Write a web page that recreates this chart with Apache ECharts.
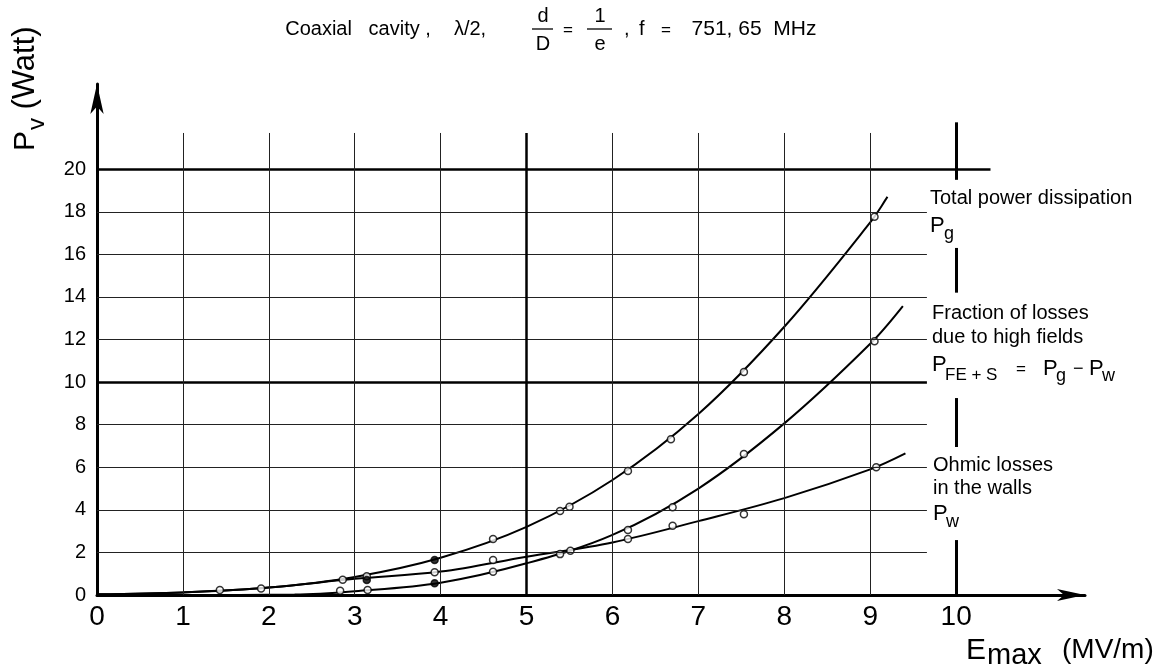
<!DOCTYPE html>
<html>
<head>
<meta charset="utf-8">
<script src="https://cdn.jsdelivr.net/npm/echarts@6/dist/echarts.min.js"></script>
<style>html,body{margin:0;background:#fff}#chart{width:1166px;height:671px}</style>
</head>
<body>
<div id="chart"></div>
<script>
// fitted curves (E in MV/m, P in Watt)
const pgCurve = [[0,0.03],[1,0.12],[2,0.35],[3,0.85],[4,1.75],[5,3.2],[6,5.4],[7,8.5],[8,12.6],[9,17.5],[9.2,18.7]]
const pwCurve = [[0,0.03],[1,0.12],[2,0.35],[3,0.76],[4,1.1],[5,1.8],[6,2.47],[7,3.47],[8,4.55],[9,5.9],[9.41,6.65]]
const pfeCurve = [[0,0],[1,0],[2.3,0.02],[3,0.18],[4,0.58],[5,1.49],[6,2.82],[7,5.0],[8,8.06],[9,11.8],[9.38,13.57]]

// measured points
const pgPts = [[1.43,0.23],[1.91,0.31],[2.86,0.72],[3.14,0.88],[4.61,2.63],[5.39,3.94],[5.5,4.15],[6.18,5.82],[6.68,7.32],[7.53,10.47],[9.05,17.76]]
const pwPts = [[3.93,1.07],[4.61,1.64],[5.51,2.08],[6.18,2.63],[6.7,3.25],[7.53,3.79],[9.07,6.0]]
const pfePts = [[2.83,0.2],[3.15,0.23],[4.61,1.09],[5.39,1.92],[6.18,3.05],[6.7,4.12],[7.53,6.62],[9.05,11.92]]
const filledPts = [[3.14,0.7],[3.93,1.64],[3.93,0.55]]

// grid of the drawing
const thinY = [2,4,6,8,12,14,16,18]
const heavyY = [10]
const topY = 20
const thinX = [1,2,3,4,6,7,8,9]
const heavyX = [5]
const gridEndX = 9.66
const topLineEndX = 10.4
const gridTopY = 21.7
const tenSegments = [[22.2,19.5],[16.3,14.2],[9.25,6.95],[2.58,0]]

const FONT = '"Liberation Sans", Arial, sans-serif'
const chart = echarts.init(document.getElementById('chart'))

const thin = {color:'#222', width:1, type:'solid'}
const heavy = {color:'#000', width:2.5, type:'solid'}
const gridLines = []
thinY.forEach(v => gridLines.push([{coord:[0,v], lineStyle:thin},{coord:[gridEndX,v]}]))
heavyY.forEach(v => gridLines.push([{coord:[0,v], lineStyle:heavy},{coord:[gridEndX,v]}]))
gridLines.push([{coord:[0,topY], lineStyle:heavy},{coord:[topLineEndX,topY]}])
thinX.forEach(v => gridLines.push([{coord:[v,0], lineStyle:thin},{coord:[v,gridTopY]}]))
heavyX.forEach(v => gridLines.push([{coord:[v,0], lineStyle:heavy},{coord:[v,gridTopY]}]))
tenSegments.forEach(s => gridLines.push([{coord:[10,s[0]], lineStyle:{color:'#000',width:3,type:'solid'}},{coord:[10,s[1]]}]))

function txt(x, y, s, size, align, extra) {
  return Object.assign({
    type:'text', x:x, y:y, silent:true,
    style:{text:s, font:size+'px '+FONT, fill:'#000',
      align:align||'left', verticalAlign:'middle',
      textAlign:align||'left', textVerticalAlign:'middle'}
  }, extra||{})
}
function hline(x1, x2, y) {
  return {type:'line', silent:true, shape:{x1:x1,y1:y,x2:x2,y2:y}, style:{stroke:'#000', lineWidth:1.3}}
}

const curve = (data) => ({
  type:'line', data:data, smooth:0.35, showSymbol:false, silent:true,
  lineStyle:{color:'#000', width:2}, z:3
})
const dots = (data, fill) => ({
  type:'scatter', data:data, symbol:'circle', symbolSize:7, silent:true, z:4,
  itemStyle:{color:fill, borderColor:'#000', borderWidth:1.5}
})

const option = {
  backgroundColor:'#fff',
  animation:false,
  grid:{left:97, right:81, top:84, bottom:76},
  xAxis:{
    type:'value', min:0, max:11.5, interval:1,
    axisLine:{show:true, symbol:['none','arrow'], symbolSize:[9,28], lineStyle:{color:'#000', width:3}},
    axisTick:{show:false}, splitLine:{show:false},
    axisLabel:{fontSize:28, fontFamily:FONT, color:'#000', margin:8,
      formatter: v => v <= 10 ? String(v) : ''}
  },
  yAxis:{
    type:'value', min:0, max:24, interval:2,
    axisLine:{show:true, symbol:['none','arrow'], symbolSize:[10,30], lineStyle:{color:'#000', width:3}},
    axisTick:{show:false}, splitLine:{show:false},
    axisLabel:{fontSize:20, fontFamily:FONT, color:'#000', margin:11,
      formatter: v => v <= 20 ? String(v) : ''}
  },
  series:[
    curve(pgCurve),
    curve(pwCurve),
    Object.assign(curve(pfeCurve), {
      markLine:{symbol:'none', silent:true, label:{show:false}, animation:false, data:gridLines}
    }),
    dots(pgPts, '#fff'),
    dots(pwPts, '#fff'),
    dots(pfePts, '#fff'),
    dots(filledPts, '#000')
  ],
  graphic:[
    // title
    txt(358, 29, 'Coaxial   cavity ,', 20, 'center'),
    txt(470, 29, 'λ/2,', 20, 'center'),
    txt(543, 16, 'd', 20, 'center'),
    hline(532, 553, 29),
    txt(543, 44, 'D', 20, 'center'),
    txt(568, 30, '=', 17, 'center'),
    txt(600, 16, '1', 20, 'center'),
    hline(587, 612, 29),
    txt(600, 44, 'e', 20, 'center'),
    txt(624, 29, ',', 20),
    txt(639, 29, 'f', 20),
    txt(666, 30, '=', 17, 'center'),
    txt(754, 29, '751, 65  MHz', 21, 'center'),
    // y axis name
    txt(26, 141, 'P', 30, 'center', {rotation:Math.PI/2}),
    txt(37, 124, 'v', 24, 'center', {rotation:Math.PI/2}),
    txt(25, 68, '(Watt)', 31, 'center', {rotation:Math.PI/2}),
    // x axis name
    txt(966, 651, 'E', 30),
    txt(987, 656, 'max', 29),
    txt(1062, 650, '(MV/m)', 28),
    // curve labels
    txt(930, 198, 'Total power dissipation', 20),
    txt(930, 226, 'P', 22),
    txt(944, 234, 'g', 18),
    txt(932, 313, 'Fraction of losses', 20),
    txt(932, 337, 'due to high fields', 20),
    txt(932, 365, 'P', 22),
    txt(945, 375, 'FE + S', 17),
    txt(1016, 369, '=', 17),
    txt(1043, 369, 'P', 22),
    txt(1056, 376, 'g', 18),
    txt(1073, 369, '−', 18),
    txt(1089, 369, 'P', 22),
    txt(1102, 376, 'w', 18),
    txt(933, 465, 'Ohmic losses', 20),
    txt(933, 488, 'in the walls', 20),
    txt(933, 514, 'P', 22),
    txt(946, 522, 'w', 18)
  ]
}
chart.setOption(option)
</script>
</body>
</html>
